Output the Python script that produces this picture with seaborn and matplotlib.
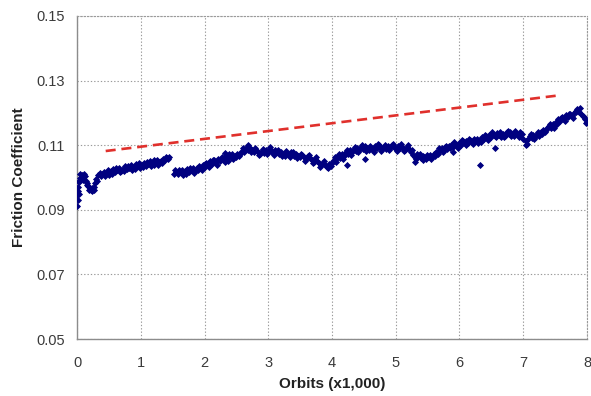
import matplotlib
matplotlib.use("Agg")
import matplotlib.pyplot as plt
import seaborn as sns
import pandas as pd

# Measured friction coefficient versus number of orbits (thousands)
orbits = [
    0.00, 0.01, 0.02, 0.03, 0.04, 0.06, 0.08, 0.10, 0.12, 0.14, 0.16, 0.18, 0.20, 0.22,
    0.24, 0.26, 0.28, 0.30, 0.33, 0.36, 0.39, 0.42, 0.45, 0.48, 0.51, 0.54, 0.57, 0.60,
    0.63, 0.66, 0.69, 0.72, 0.75, 0.78, 0.81, 0.84, 0.87, 0.90, 0.93, 0.96, 0.99, 1.02,
    1.05, 1.08, 1.11, 1.14, 1.17, 1.20, 1.23, 1.26, 1.29, 1.32, 1.35, 1.38, 1.41, 1.44,
    1.52, 1.55, 1.58, 1.61, 1.64, 1.67, 1.70, 1.73, 1.76, 1.79, 1.82, 1.85, 1.88, 1.91,
    1.94, 1.97, 2.00, 2.03, 2.06, 2.09, 2.12, 2.15, 2.18, 2.21, 2.24, 2.27, 2.30, 2.33,
    2.36, 2.39, 2.42, 2.45, 2.48, 2.51, 2.54, 2.57, 2.60, 2.63, 2.66, 2.69, 2.72, 2.75,
    2.78, 2.81, 2.84, 2.87, 2.90, 2.93, 2.96, 2.99, 3.02, 3.05, 3.08, 3.11, 3.14, 3.17,
    3.20, 3.23, 3.26, 3.29, 3.32, 3.35, 3.38, 3.41, 3.44, 3.47, 3.50, 3.53, 3.56, 3.59,
    3.62, 3.65, 3.68, 3.71, 3.74, 3.77, 3.80, 3.83, 3.86, 3.89, 3.92, 3.95, 3.98, 4.01,
    4.04, 4.07, 4.10, 4.13, 4.16, 4.19, 4.22, 4.25, 4.28, 4.31, 4.34, 4.37, 4.40, 4.43,
    4.46, 4.49, 4.52, 4.55, 4.58, 4.61, 4.64, 4.67, 4.70, 4.73, 4.76, 4.79, 4.82, 4.85,
    4.88, 4.91, 4.94, 4.97, 5.00, 5.03, 5.06, 5.09, 5.12, 5.15, 5.18, 5.21, 5.24, 5.27,
    5.30, 5.33, 5.36, 5.39, 5.42, 5.45, 5.48, 5.51, 5.54, 5.57, 5.60, 5.63, 5.66, 5.69,
    5.72, 5.75, 5.78, 5.81, 5.84, 5.87, 5.90, 5.93, 5.96, 5.99, 6.02, 6.05, 6.08, 6.11,
    6.14, 6.17, 6.20, 6.23, 6.26, 6.29, 6.32, 6.35, 6.38, 6.41, 6.44, 6.47, 6.50, 6.53,
    6.56, 6.59, 6.62, 6.65, 6.68, 6.71, 6.74, 6.77, 6.80, 6.83, 6.86, 6.89, 6.92, 6.95,
    6.98, 7.04, 7.07, 7.10, 7.13, 7.16, 7.19, 7.22, 7.25, 7.28, 7.31, 7.34, 7.37, 7.40,
    7.43, 7.46, 7.49, 7.52, 7.55, 7.58, 7.61, 7.64, 7.67, 7.70, 7.73, 7.76, 7.79, 7.82,
    7.85, 7.88, 7.91, 7.94, 7.97, 8.00,
]

friction = [
    0.0912, 0.0930, 0.0958, 0.0985, 0.1000, 0.0995, 0.1008, 0.0998, 0.1004, 0.0990, 0.0982, 0.0975, 0.0968, 0.0962,
    0.0966, 0.0972, 0.0983, 0.0995, 0.1008, 0.1015, 0.1010, 0.1018, 0.1012, 0.1022, 0.1014, 0.1020, 0.1026, 0.1018,
    0.1024, 0.1030, 0.1021, 0.1027, 0.1035, 0.1026, 0.1030, 0.1038, 0.1029, 0.1033, 0.1042, 0.1036, 0.1030, 0.1040,
    0.1046, 0.1036, 0.1042, 0.1050, 0.1043, 0.1040, 0.1048, 0.1055, 0.1047, 0.1052, 0.1058, 0.1053, 0.1060, 0.1064,
    0.1012, 0.1018, 0.1010, 0.1016, 0.1022, 0.1014, 0.1019, 0.1025, 0.1017, 0.1022, 0.1030, 0.1021, 0.1028, 0.1036,
    0.1030, 0.1040, 0.1034, 0.1045, 0.1038, 0.1050, 0.1043, 0.1055, 0.1047, 0.1058, 0.1050, 0.1062, 0.1055, 0.1068,
    0.1060, 0.1072, 0.1064, 0.1058, 0.1066, 0.1074, 0.1068, 0.1080, 0.1090, 0.1085, 0.1094, 0.1086, 0.1092, 0.1084,
    0.1078, 0.1086, 0.1080, 0.1074, 0.1082, 0.1076, 0.1085, 0.1080, 0.1088, 0.1082, 0.1076, 0.1084, 0.1078, 0.1072,
    0.1080, 0.1074, 0.1068, 0.1076, 0.1070, 0.1078, 0.1072, 0.1066, 0.1074, 0.1068, 0.1062, 0.1070, 0.1064, 0.1058,
    0.1066, 0.1060, 0.1054, 0.1048, 0.1056, 0.1050, 0.1044, 0.1038, 0.1046, 0.1040, 0.1034, 0.1042, 0.1036, 0.1050,
    0.1062, 0.1056, 0.1068, 0.1060, 0.1072, 0.1066, 0.1078, 0.1072, 0.1084, 0.1078, 0.1088, 0.1082, 0.1090, 0.1084,
    0.1094, 0.1088, 0.1096, 0.1090, 0.1084, 0.1092, 0.1086, 0.1096, 0.1090, 0.1100, 0.1093, 0.1087, 0.1095, 0.1089,
    0.1097, 0.1091, 0.1100, 0.1094, 0.1088, 0.1096, 0.1090, 0.1098, 0.1092, 0.1086, 0.1094, 0.1088, 0.1078, 0.1070,
    0.1064, 0.1072, 0.1066, 0.1060, 0.1068, 0.1062, 0.1056, 0.1064, 0.1070, 0.1064, 0.1074, 0.1080, 0.1074, 0.1084,
    0.1090, 0.1084, 0.1094, 0.1088, 0.1096, 0.1102, 0.1094, 0.1104, 0.1098, 0.1108, 0.1102, 0.1112, 0.1106, 0.1114,
    0.1108, 0.1116, 0.1110, 0.1118, 0.1112, 0.1106, 0.1116, 0.1124, 0.1118, 0.1128, 0.1122, 0.1132, 0.1126, 0.1136,
    0.1130, 0.1138, 0.1132, 0.1126, 0.1136, 0.1130, 0.1140, 0.1134, 0.1142, 0.1136, 0.1130, 0.1138, 0.1132, 0.1140,
    0.1134, 0.1112, 0.1120, 0.1128, 0.1122, 0.1132, 0.1126, 0.1136, 0.1130, 0.1140, 0.1146, 0.1140, 0.1152, 0.1160,
    0.1154, 0.1166, 0.1160, 0.1172, 0.1180, 0.1174, 0.1186, 0.1180, 0.1192, 0.1186, 0.1196, 0.1190, 0.1200, 0.1206,
    0.1212, 0.1204, 0.1198, 0.1190, 0.1180, 0.1172,
]

# Readings taken between the main samples
orbits_mid = [
    0.005, 0.015, 0.025, 0.035, 0.05, 0.07, 0.09, 0.11, 0.15, 0.19, 0.23, 0.27, 0.315, 0.375,
    0.435, 0.495, 0.555, 0.615, 0.675, 0.735, 0.795, 0.855, 0.915, 0.975, 1.035, 1.095, 1.155,
    1.215, 1.275, 1.335, 1.395, 1.435,
    1.535, 1.595, 1.655, 1.715, 1.775, 1.835, 1.895, 1.955, 2.015, 2.075, 2.135, 2.195, 2.255,
    2.315, 2.375, 2.435, 2.495, 2.555, 2.615, 2.675, 2.735, 2.795, 2.855, 2.915, 2.975, 3.035,
    3.095, 3.155, 3.215, 3.275, 3.335, 3.395, 3.455, 3.515, 3.575, 3.635, 3.695, 3.755, 3.815,
    3.875, 3.935, 3.995, 4.055, 4.115, 4.175, 4.235, 4.295, 4.355, 4.415, 4.475, 4.535, 4.595,
    4.655, 4.715, 4.775, 4.835, 4.895, 4.955, 5.015, 5.075, 5.135, 5.195, 5.255, 5.315, 5.375,
    5.435, 5.495, 5.555, 5.615, 5.675, 5.735, 5.795, 5.855, 5.915, 5.975, 6.035, 6.095, 6.155,
    6.215, 6.275, 6.335, 6.395, 6.455, 6.515, 6.575, 6.635, 6.695, 6.755, 6.815, 6.875, 6.935,
    6.995, 7.055, 7.115, 7.175, 7.235, 7.295, 7.355, 7.415, 7.475, 7.535, 7.595, 7.655, 7.715,
    7.775, 7.835, 7.895, 7.955, 7.985,
]

friction_mid = [
    0.0945, 0.0970, 0.0990, 0.0950, 0.1010, 0.1000, 0.0992, 0.1010, 0.0978, 0.0960, 0.0957, 0.0962, 0.0990, 0.1004,
    0.1006, 0.1008, 0.1012, 0.1030, 0.1016, 0.1020, 0.1036, 0.1022, 0.1026, 0.1044, 0.1032, 0.1048, 0.1036,
    0.1054, 0.1040, 0.1046, 0.1062, 0.1056,
    0.1022, 0.1024, 0.1008, 0.1012, 0.1028, 0.1014, 0.1022, 0.1024, 0.1042, 0.1032, 0.1054, 0.1040, 0.1058,
    0.1048, 0.1052, 0.1072, 0.1062, 0.1072, 0.1078, 0.1100, 0.1078, 0.1092, 0.1070, 0.1088, 0.1072, 0.1094,
    0.1070, 0.1086, 0.1066, 0.1082, 0.1064, 0.1080, 0.1060, 0.1074, 0.1052, 0.1070, 0.1046, 0.1062, 0.1032,
    0.1052, 0.1028, 0.1044, 0.1048, 0.1074, 0.1058, 0.1084, 0.1070, 0.1094, 0.1078, 0.1100, 0.1082, 0.1098,
    0.1080, 0.1104, 0.1082, 0.1102, 0.1084, 0.1104, 0.1082, 0.1104, 0.1082, 0.1100, 0.1084, 0.1058, 0.1072,
    0.1054, 0.1070, 0.1058, 0.1068, 0.1090, 0.1078, 0.1098, 0.1090, 0.1110, 0.1092, 0.1116, 0.1100, 0.1120,
    0.1104, 0.1120, 0.1110, 0.1132, 0.1116, 0.1140, 0.1124, 0.1142, 0.1124, 0.1144, 0.1128, 0.1144, 0.1126,
    0.1120, 0.1104, 0.1134, 0.1120, 0.1142, 0.1134, 0.1146, 0.1166, 0.1154, 0.1166, 0.1184, 0.1176, 0.1198,
    0.1184, 0.1204, 0.1214, 0.1186, 0.1168,
]

# Isolated readings away from the main band
orbits_out = [2.32, 4.23, 4.51, 5.30, 6.32, 6.55, 7.05, 5.90]
friction_out = [0.1075, 0.1038, 0.1056, 0.1047, 0.1040, 0.1090, 0.1100, 0.1080]

# Linear trend shown as a dashed reference line
trend_orbits = [0.45, 7.55]
trend_friction = [0.1082, 0.1254]

x_ticks = [0, 1, 2, 3, 4, 5, 6, 7, 8]
y_ticks = [0.05, 0.07, 0.09, 0.11, 0.13, 0.15]
y_tick_labels = ["0.05", "0.07", "0.09", "0.11", "0.13", "0.15"]

sns.set_style("white")
plt.rcParams["font.family"] = ["Liberation Sans", "DejaVu Sans"]

fig = plt.figure(figsize=(5.91, 3.96), dpi=100)
ax = fig.add_axes([0.1303, 0.1439, 0.8629, 0.8157])

data = pd.DataFrame({
    "orbits": orbits + orbits_mid + orbits_out,
    "friction": friction + friction_mid + friction_out,
})
trend = pd.DataFrame({"orbits": trend_orbits, "friction": trend_friction})

sns.lineplot(data=trend, x="orbits", y="friction", ax=ax, color="#e0302c",
             linewidth=1.9, zorder=2)
ax.lines[-1].set_dashes([3.8, 2.2])

sns.scatterplot(data=data, x="orbits", y="friction", ax=ax, marker="D",
                s=9, color="#000080", edgecolor="#000080", linewidth=0.6,
                zorder=3)

ax.set_xlim(0, 8)
ax.set_ylim(0.05, 0.15)
ax.set_xticks(x_ticks)
ax.set_yticks(y_ticks)
ax.set_yticklabels(y_tick_labels)

ax.grid(True, color="#9a9a9a", linestyle=(0, (1.2, 1.8)), linewidth=0.8)
ax.set_axisbelow(True)

for side in ["left", "bottom"]:
    ax.spines[side].set_color("#8c8c8c")
    ax.spines[side].set_linewidth(1.0)
for side in ["top", "right"]:
    ax.spines[side].set_color("#9a9a9a")
    ax.spines[side].set_linestyle((0, (1.2, 1.8)))
    ax.spines[side].set_linewidth(0.8)

ax.tick_params(axis="both", direction="out", length=4, width=0.8,
               color="#8c8c8c", labelsize=10.5, labelcolor="#3a3a3a", pad=5)
ax.tick_params(axis="x", pad=8)

ax.set_xlabel("Orbits (x1,000)", fontsize=11, fontweight="bold",
              color="#222222", labelpad=5)
ax.set_ylabel("Friction Coefficient", fontsize=11, fontweight="bold",
              color="#222222", labelpad=7)

fig.savefig("out.png", dpi=100)
